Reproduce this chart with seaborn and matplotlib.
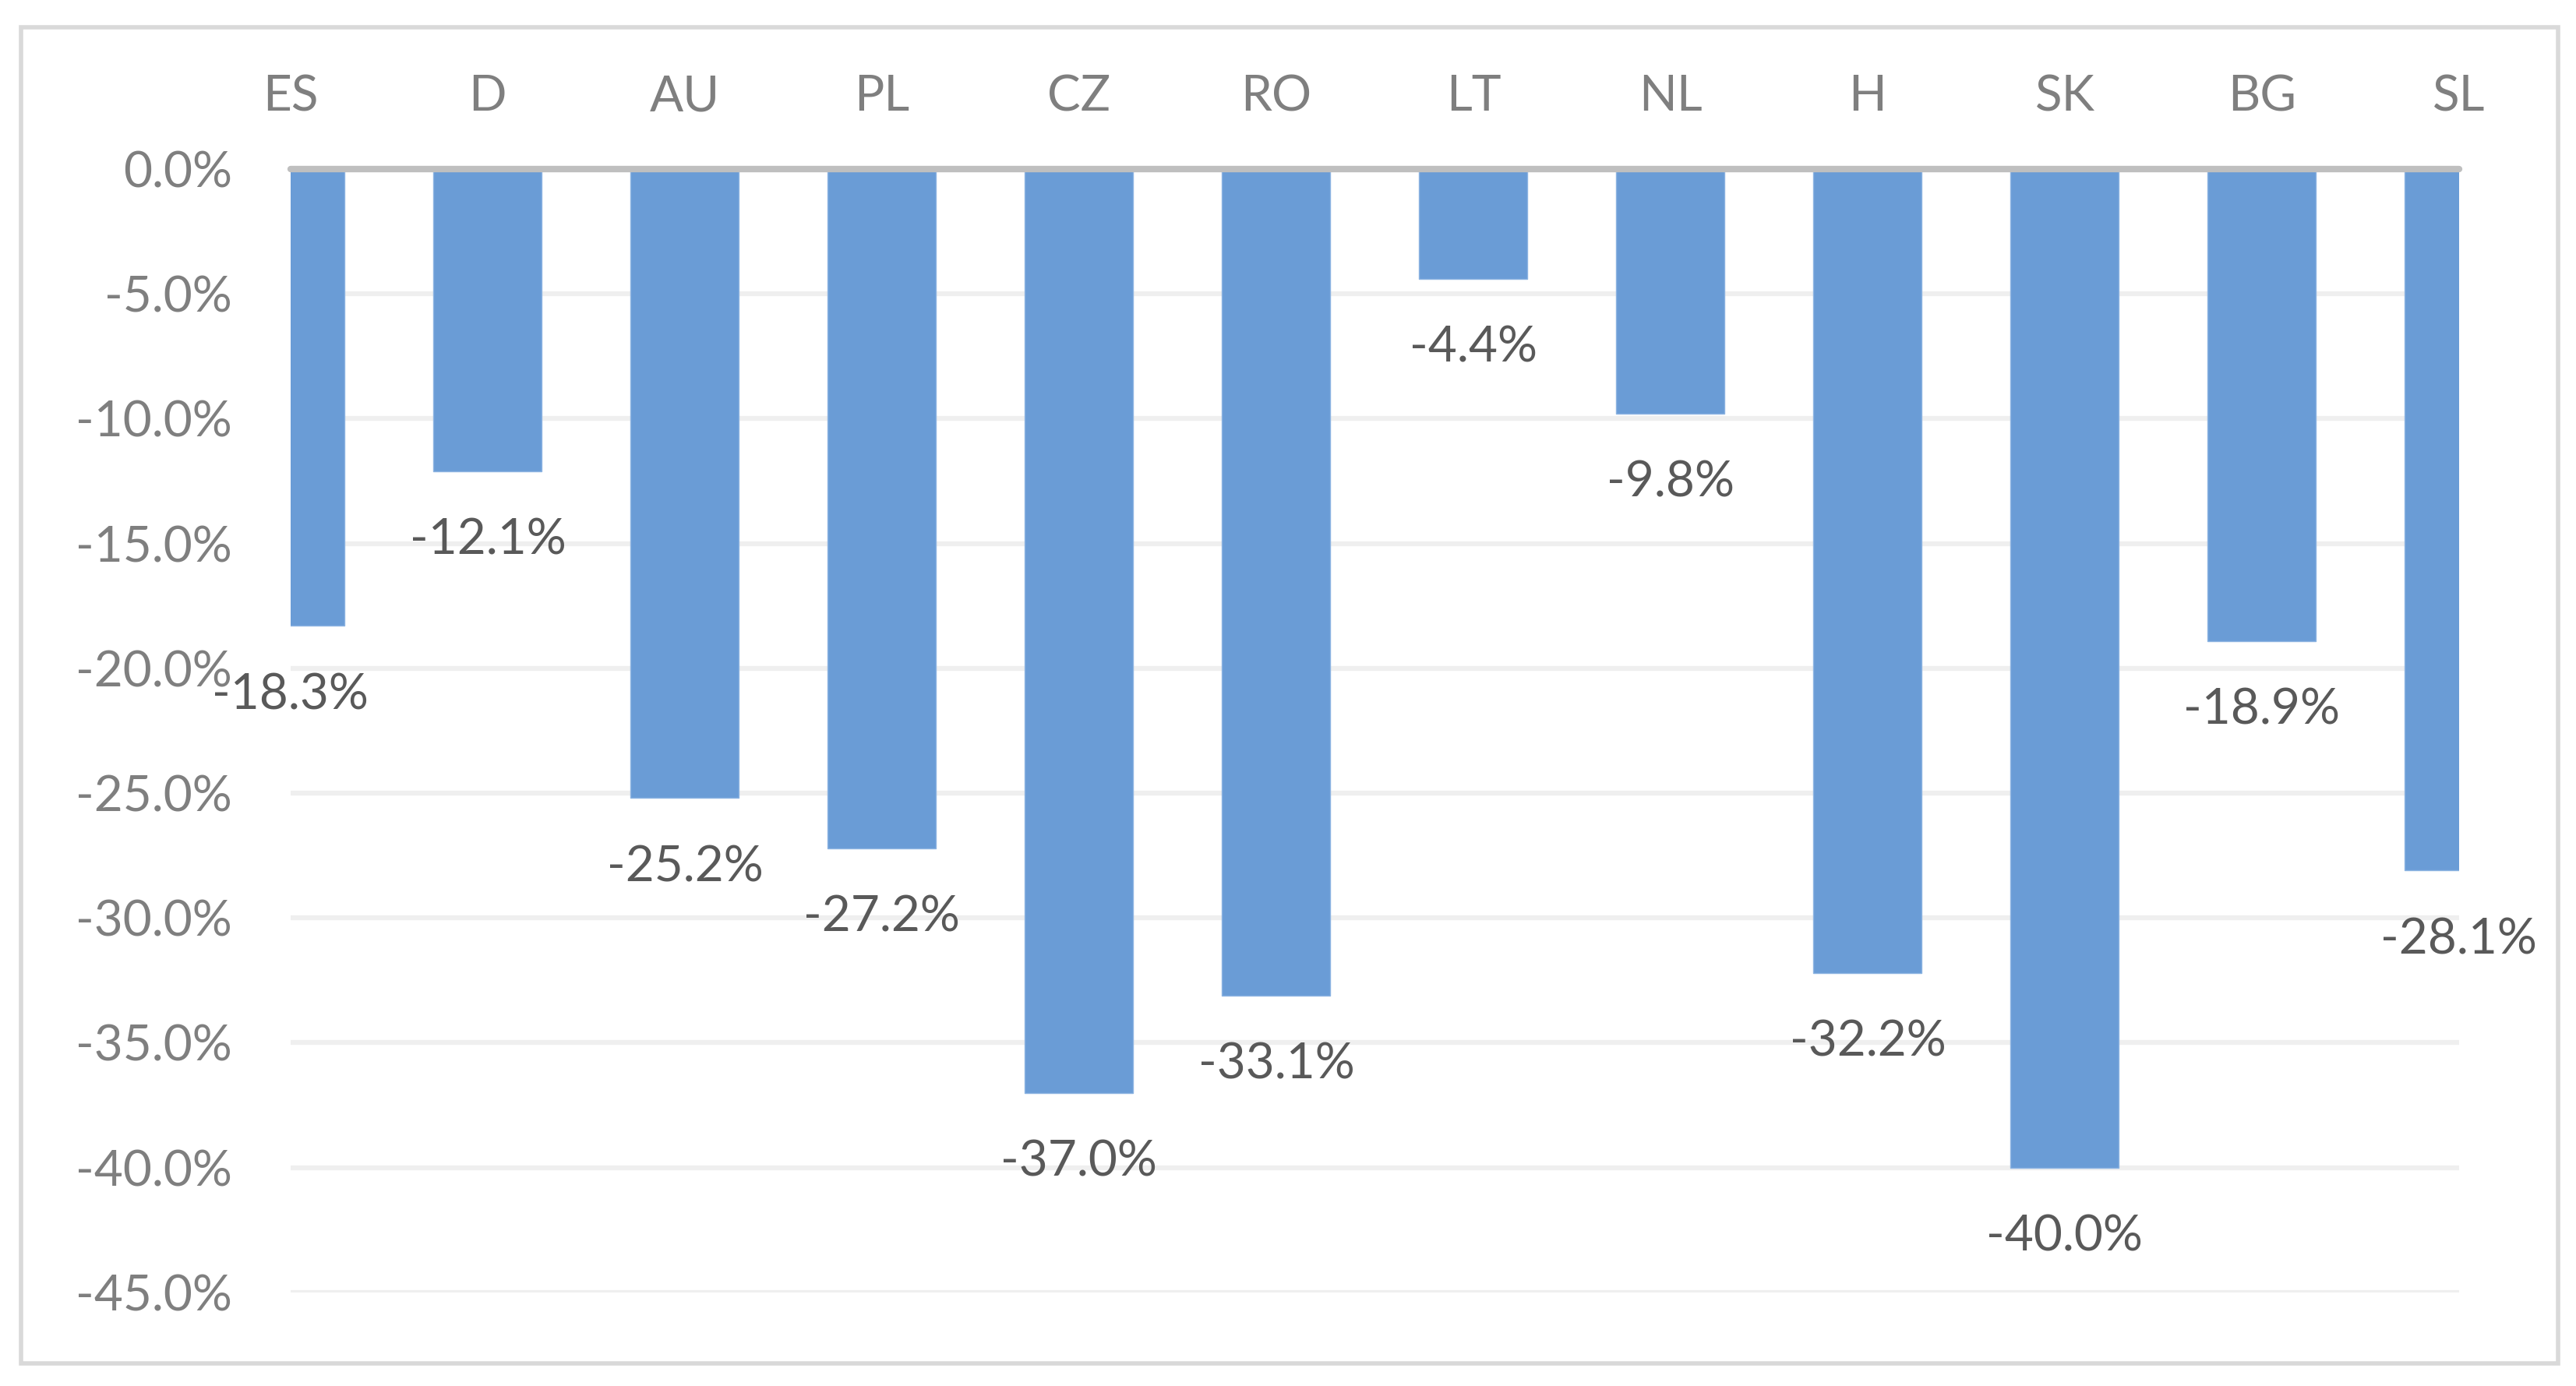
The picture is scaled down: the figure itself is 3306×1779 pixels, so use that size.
import matplotlib
matplotlib.use("Agg")
import matplotlib.pyplot as plt
import seaborn as sns
import pandas as pd
from matplotlib.patches import Rectangle

categories = ["ES", "D", "AU", "PL", "CZ", "RO", "LT", "NL", "H", "SK", "BG", "SL"]
values = [-18.3, -12.1, -25.2, -27.2, -37.0, -33.1, -4.4, -9.8, -32.2, -40.0, -18.9, -28.1]
yticks = [0, -5, -10, -15, -20, -25, -30, -35, -40, -45]

sns.set_theme(style="white")
plt.rcParams["font.family"] = ["Lato", "DejaVu Sans"]

df = pd.DataFrame({"cat": categories, "val": values})

fig = plt.figure(figsize=(33.06, 17.79), dpi=100)
ax = fig.add_axes([0.1128, 0.0675, 0.8418, 0.8105])

sns.barplot(data=df, x="cat", y="val", color="#6A9CD6", saturation=1,
            width=0.55, ax=ax, edgecolor="#8DB4E2", linewidth=1, zorder=3)

ax.set_xlim(0, len(categories) - 1)
ax.set_ylim(-45, 0)
ax.set_yticks(yticks)
ax.set_yticklabels([f"{t:.1f}%" for t in yticks])
ax.grid(axis="y", color="#EFEFEF", linewidth=4.5, zorder=0)
ax.grid(axis="x", visible=False)
ax.set_axisbelow(True)
for s in ax.spines.values():
    s.set_visible(False)
ax.axhline(0, color="#BFBFBF", linewidth=6, clip_on=False, zorder=5)

ax.xaxis.tick_top()
ax.tick_params(axis="x", top=False, bottom=False, labeltop=True, labelbottom=False,
               pad=40, labelsize=46, labelcolor="#7F7F7F")
ax.tick_params(axis="y", left=False, pad=48, labelsize=46, labelcolor="#7F7F7F")
ax.set_xlabel("")
ax.set_ylabel("")

for i, v in enumerate(values):
    ax.annotate(f"{v:.1f}%", xy=(i, v), xytext=(0, -64), textcoords="offset points",
                ha="center", va="center", fontsize=46, color="#595959",
                annotation_clip=False, zorder=6)

fig.patches.append(Rectangle((27 / 3306, 1 - 1750 / 1779), (3283 - 27) / 3306, (1750 - 35) / 1779,
                             transform=fig.transFigure, fill=False,
                             edgecolor="#D9D9D9", linewidth=4))

fig.savefig("out.png", dpi=100, facecolor="white")
